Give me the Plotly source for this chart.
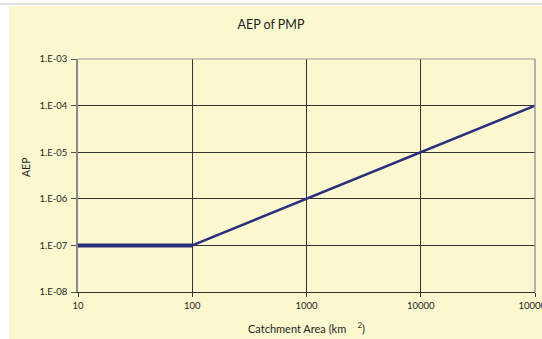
import plotly.graph_objects as go

# Annual exceedance probability of the PMP against catchment area
area_flat = [10, 100]
aep_flat = [1e-7, 1e-7]
area_slope = [100, 1000, 10000, 100000]
aep_slope = [1e-7, 1e-6, 1e-5, 1e-4]

x_ticks = [10, 100, 1000, 10000, 100000]
x_ticktext = ["10", "100", "1000", "10000", "100000"]
y_ticks = [1e-8, 1e-7, 1e-6, 1e-5, 1e-4, 1e-3]
y_ticktext = ["1.E-08", "1.E-07", "1.E-06", "1.E-05", "1.E-04", "1.E-03"]

W, H = 542, 339
L, R, T, B = 78, 7, 59, 47
pw, ph = W - L - R, H - T - B

def px_x(px):
    return (px - L) / pw

def px_y(py):
    return (H - B - py) / ph

FONT = "Lato"
LINE = "#2b2e7c"
BG = "#fbf8d0"

fig = go.Figure()
fig.add_trace(go.Scatter(x=area_flat, y=aep_flat, mode="lines",
                         line=dict(color=LINE, width=4), showlegend=False))
fig.add_trace(go.Scatter(x=area_slope, y=aep_slope, mode="lines",
                         line=dict(color=LINE, width=2.5), showlegend=False))

fig.update_layout(
    width=W, height=H,
    margin=dict(l=L, r=R, t=T, b=B, autoexpand=False),
    paper_bgcolor="white",
    plot_bgcolor="white",
    font=dict(family=FONT, color="#1e1e1e", size=9.5),
    title=dict(text="AEP of PMP", xref="container", x=271 / W,
               y=1 - 25 / H, yanchor="middle", xanchor="center",
               font=dict(family=FONT, size=12.5, color="#1e1e1e")),
    xaxis=dict(type="log", range=[1, 5], tickvals=x_ticks, ticktext=x_ticktext,
               showgrid=True, gridcolor="#333333", gridwidth=1,
               showline=True, linecolor="#333333", linewidth=1.2,
               ticks="outside", ticklen=4, tickcolor="#333333",
               zeroline=False, tickfont=dict(size=9.5),
               ticklabeloverflow="allow", automargin=False),
    yaxis=dict(type="log", range=[-8, -3], tickvals=y_ticks, ticktext=y_ticktext,
               showgrid=True, gridcolor="#333333", gridwidth=1,
               showline=True, linecolor="#888888", linewidth=1.5,
               ticks="outside", ticklen=5, tickcolor="#555555",
               zeroline=False, tickfont=dict(size=9.5),
               ticklabelstandoff=2, automargin=False),
    shapes=[
        # panel background
        dict(type="rect", xref="paper", yref="paper", layer="below",
             x0=px_x(9), x1=px_x(W + 2), y0=px_y(H + 2), y1=px_y(6),
             fillcolor=BG, line=dict(width=0)),
        # thin rule along the top edge of the page
        dict(type="line", xref="paper", yref="paper", layer="below",
             x0=px_x(0), x1=px_x(W), y0=px_y(4), y1=px_y(4),
             line=dict(color="#d4d4d4", width=1.5)),
        # grey plot border on top and right
        dict(type="line", xref="paper", yref="paper", layer="above",
             x0=0, x1=1, y0=1, y1=1, line=dict(color="#9a9a9a", width=1.2)),
        dict(type="line", xref="paper", yref="paper", layer="above",
             x0=1, x1=1, y0=0, y1=1, line=dict(color="#9a9aa8", width=1.5)),
    ],
    annotations=[
        dict(text="AEP", xref="paper", yref="paper", x=px_x(26), y=px_y(168),
             textangle=-90, showarrow=False, font=dict(size=10.5),
             xanchor="center", yanchor="middle"),
        dict(text="Catchment Area (km    <sup>2</sup>)", xref="paper", yref="paper",
             x=px_x(306), y=px_y(327), showarrow=False, font=dict(size=11),
             xanchor="center", yanchor="middle"),
    ],
)

fig.write_html("out.html")
